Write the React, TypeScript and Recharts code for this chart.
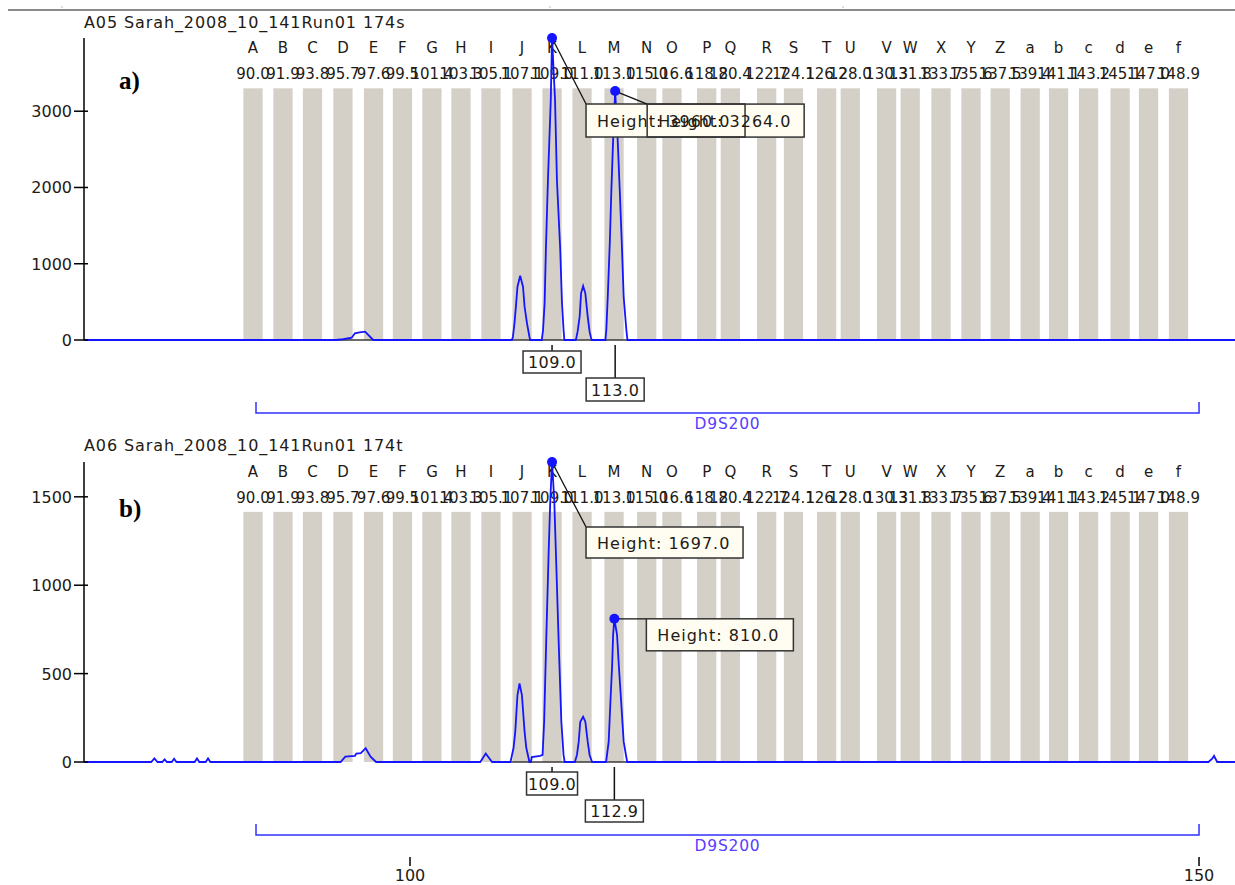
import React from 'react';
import { ComposedChart, Line, XAxis, YAxis, ReferenceArea, ReferenceDot, ReferenceLine } from 'recharts';

// ---------------- data ----------------
const xDomain: [number, number] = [79.34, 152.28];
const xTicks = [100, 150];
const yTicksA = [0, 1000, 2000, 3000];
const yTicksB = [0, 500, 1000, 1500];
const yMaxA = 3960;
const yMaxB = 1697;

const binLetters = ['A', 'B', 'C', 'D', 'E', 'F', 'G', 'H', 'I', 'J', 'K', 'L', 'M', 'N', 'O', 'P', 'Q', 'R', 'S', 'T', 'U', 'V', 'W', 'X', 'Y', 'Z', 'a', 'b', 'c', 'd', 'e', 'f'];
const binCenters = [90.05, 91.95, 93.82, 95.75, 97.69, 99.52, 101.39, 103.23, 105.13, 107.1, 109.0, 110.9, 112.93, 115.0, 116.6, 118.8, 120.3, 122.6, 124.3, 126.4, 127.9, 130.2, 131.7, 133.65, 135.55, 137.4, 139.3, 141.1, 143.0, 145.0, 146.8, 148.7];
const binLabels = ['90.0', '91.9', '93.8', '95.7', '97.6', '99.5', '101.4', '103.3', '105.1', '107.1', '109.0', '111.0', '113.0', '115.0', '116.6', '118.8', '120.4', '122.7', '124.1', '126.2', '128.0', '130.3', '131.8', '133.7', '135.6', '137.5', '139.4', '141.1', '143.2', '145.1', '147.0', '148.9'];
const binTopA = 3300;
const binTopB = 1415;

const locusName = 'D9S200';
const locusRange = [90.24, 150.0];

const titleA = 'A05 Sarah_2008_10_141Run01 174s';
const titleB = 'A06 Sarah_2008_10_141Run01 174t';

// panel a trace pieces [size, height]
const traceA_E = [[95.3, 0], [95.77, 10], [96.3, 30], [96.51, 88], [96.8, 100], [97.15, 109], [97.67, 0]];
const traceA_J = [[106.45, 0], [106.52, 40], [106.62, 222], [106.71, 437], [106.81, 699], [106.98, 843], [107.16, 699], [107.26, 437], [107.41, 222], [107.57, 40], [107.62, 0]];
const traceA_K = [[108.35, 0], [108.43, 131], [108.53, 485], [108.61, 1180], [108.74, 2097], [108.92, 3145], [109.0, 3960], [109.19, 3145], [109.31, 2097], [109.52, 1180], [109.63, 485], [109.73, 131], [109.78, 0]];
const traceA_L = [[110.5, 0], [110.54, 30], [110.62, 109], [110.75, 306], [110.84, 612], [110.97, 708], [111.11, 612], [111.26, 306], [111.38, 109], [111.47, 30], [111.52, 0]];
const traceA_M = [[112.38, 0], [112.44, 131], [112.53, 564], [112.66, 1271], [112.76, 1966], [112.87, 2621], [113.0, 3264], [113.16, 2621], [113.29, 1966], [113.42, 1271], [113.54, 564], [113.71, 131], [113.78, 0]];

// panel b trace pieces
const traceB_noise = [[83.6, 0], [83.8, 20], [84.0, 0], [84.3, 0], [84.45, 15], [84.6, 0], [84.9, 0], [85.05, 18], [85.2, 0], [86.35, 0], [86.5, 20], [86.65, 0], [87.05, 0], [87.2, 20], [87.35, 0]];
const traceB_E = [[95.6, 0], [95.9, 30], [96.51, 35], [96.6, 48], [96.88, 50], [97.19, 78], [97.5, 30], [97.85, 0]];
const traceB_I = [[104.45, 0], [104.8, 48], [105.2, 0]];
const traceB_J = [[106.35, 0], [106.39, 10], [106.56, 79], [106.67, 172], [106.81, 379], [106.94, 445], [107.09, 379], [107.26, 172], [107.37, 79], [107.57, 0]];
const traceB_K = [[107.66, 0], [107.72, 28], [108.25, 35], [108.4, 40], [108.5, 228], [108.63, 681], [108.78, 1171], [108.89, 1483], [109.0, 1697], [109.14, 1483], [109.25, 1171], [109.42, 681], [109.59, 228], [109.73, 40], [109.8, 0]];
const traceB_L = [[110.45, 0], [110.48, 10], [110.58, 40], [110.69, 115], [110.79, 228], [110.97, 256], [111.11, 228], [111.26, 115], [111.38, 40], [111.54, 0]];
const traceB_M = [[112.4, 0], [112.44, 10], [112.59, 115], [112.7, 341], [112.81, 549], [112.87, 719], [112.95, 810], [113.12, 719], [113.23, 549], [113.38, 341], [113.54, 115], [113.76, 0]];
const traceB_end = [[150.6, 0], [150.85, 20], [150.95, 35], [151.15, 0]];

const callSizesA = [109.0, 113.0];
const callHeightsA = [3960, 3264];
const callLabelsA = ['109.0', '113.0'];
const callSizesB = [109.0, 112.95];
const callHeightsB = [1697, 810];
const callLabelsB = ['109.0', '112.9'];

// ---------------- styles / layout ----------------
const FONT = '"DejaVu Sans", Verdana, sans-serif';
const TRACE = '#1414ff';
const BIN_FILL = '#d4d0c8';
const TEXT = '#221a14';
const BIN_HALF = 0.61;
const heightLayoutA = [{ dx: 34, dy: 66, w: 159, h: 33 }, { dx: 32, dy: 13, w: 157, h: 33 }];
const heightLayoutB = [{ dx: 34, dy: 65, w: 157, h: 31 }, { dx: 32, dy: 0, w: 147, h: 32 }];
const sizeLayoutA = [{ dy: 11, w: 58, h: 22 }, { dy: 38, w: 58, h: 23 }];
const sizeLayoutB = [{ dy: 10, w: 51, h: 23 }, { dy: 38, w: 58, h: 22 }];

type Pt = number[];
const toPoints = (...parts: Pt[][]) => parts.flat().map(([x, y]) => ({ x, y }));
const dataA = toPoints([[xDomain[0], 0]], traceA_E, traceA_J, traceA_K, traceA_L, traceA_M, [[xDomain[1], 0]]);
const dataB = toPoints([[xDomain[0], 0]], traceB_noise, traceB_E, traceB_I, traceB_J, traceB_K, traceB_L, traceB_M, traceB_end, [[xDomain[1], 0]]);
const peaksA = [traceA_E, traceA_J, traceA_K, traceA_L, traceA_M];
const peaksB = [traceB_J, traceB_K, traceB_L, traceB_M];

const YTick = (props: any) => {
  const { x, y, payload } = props;
  return (
    <g>
      <line x1={x - 10} x2={x + 4} y1={y} y2={y} stroke="#000" strokeWidth={1.5} />
      <text x={x - 12} y={y + 6} textAnchor="end" fontSize={16} fill={TEXT} fontFamily={FONT}>{payload.value}</text>
    </g>
  );
};

const XTick = (props: any) => {
  const { x, y, payload } = props;
  return (
    <g>
      <line x1={x} x2={x} y1={y + 95} y2={y + 104} stroke="#000" strokeWidth={1.5} />
      <text x={x} y={y + 119} textAnchor="middle" fontSize={16} fill={TEXT} fontFamily={FONT}>{payload.value}</text>
    </g>
  );
};

const BinShape = (props: any) => {
  const { x, y, width, height, letter, label } = props;
  const cx = x + width / 2;
  return (
    <g>
      <rect x={x} y={y} width={width} height={height} fill={BIN_FILL} />
      <text x={cx} y={y - 35} textAnchor="middle" fontSize={15} fill={TEXT} fontFamily={FONT}>{letter}</text>
      <text x={cx} y={y - 9} textAnchor="middle" fontSize={15} fill={TEXT} fontFamily={FONT}>{label}</text>
    </g>
  );
};

const HeightBoxFill = (props: any) => {
  const { cx, cy, lay } = props;
  return <rect x={cx + lay.dx} y={cy + lay.dy} width={lay.w} height={lay.h} fill="#fffdf2" />;
};

const HeightBoxFront = (props: any) => {
  const { cx, cy, lay, text } = props;
  const bx = cx + lay.dx;
  const by = cy + lay.dy;
  return (
    <g>
      <line x1={cx} y1={cy} x2={bx} y2={by} stroke="#111" strokeWidth={1.3} />
      <rect x={bx} y={by} width={lay.w} height={lay.h} fill="none" stroke="#333" strokeWidth={1.5} />
      <text x={bx + 11} y={by + lay.h / 2 + 6} fontSize={16} letterSpacing={1} fill={TEXT} fontFamily={FONT}>{text}</text>
      <circle cx={cx} cy={cy} r={5} fill={TRACE} />
    </g>
  );
};

const SizeBox = (props: any) => {
  const { cx, cy, lay, text } = props;
  const by = cy + lay.dy;
  return (
    <g>
      <line x1={cx} y1={cy + 5} x2={cx} y2={by} stroke="#111" strokeWidth={1.5} />
      <rect x={cx - lay.w / 2} y={by} width={lay.w} height={lay.h} fill="#fff" stroke="#333" strokeWidth={1.5} />
      <text x={cx} y={by + lay.h / 2 + 6} textAnchor="middle" fontSize={16} letterSpacing={0.5} fill={TEXT} fontFamily={FONT}>{text}</text>
    </g>
  );
};

const Bracket = (props: any) => {
  const { x1, y1, x2 } = props;
  return (
    <g>
      <path d={`M${x1},${y1 + 62} V${y1 + 73} H${x2} V${y1 + 62}`} fill="none" stroke="#3030ff" strokeWidth={1.5} />
      <text x={(x1 + x2) / 2} y={y1 + 89} textAnchor="middle" fontSize={15.5} letterSpacing={0.8} fill="#5a3cff" fontFamily={FONT}>{locusName}</text>
    </g>
  );
};

interface PanelProps {
  data: { x: number; y: number }[];
  yMax: number;
  yTicks: number[];
  binTop: number;
  peaks: Pt[][];
  callSizes: number[];
  callHeights: number[];
  callLabels: string[];
  heightLayout: any[];
  sizeLayout: any[];
  height: number;
  margin: any;
  showX: boolean;
}

function Panel(p: PanelProps) {
  return (
    <ComposedChart width={1235} height={p.height} data={p.data} margin={p.margin}>
      <XAxis
        dataKey="x"
        type="number"
        domain={xDomain}
        ticks={xTicks}
        interval={0}
        hide={!p.showX}
        height={40}
        axisLine={false}
        tickLine={false}
        tickSize={0}
        tickMargin={0}
        tick={(t: any) => <XTick {...t} />}
      />
      <YAxis
        type="number"
        domain={[0, p.yMax]}
        ticks={p.yTicks}
        interval={0}
        width={60}
        tickLine={false}
        tickSize={0}
        tickMargin={0}
        axisLine={{ stroke: '#000', strokeWidth: 1.5 }}
        tick={(t: any) => <YTick {...t} />}
      />
      {binCenters.map((c, i) => (
        <ReferenceArea
          key={'bin' + i}
          x1={c - BIN_HALF}
          x2={c + BIN_HALF}
          y1={0}
          y2={p.binTop}
          ifOverflow="visible"
          shape={(s: any) => <BinShape {...s} letter={binLetters[i]} label={binLabels[i]} />}
        />
      ))}
      {p.peaks.map((pk, i) => (
        <ReferenceLine
          key={'base' + i}
          segment={[{ x: pk[0][0], y: 0 }, { x: pk[pk.length - 1][0], y: 0 }]}
          stroke="#3a3a3a"
          strokeWidth={1.5}
          ifOverflow="visible"
        />
      ))}
      <Line dataKey="y" type="linear" stroke={TRACE} strokeWidth={1.8} dot={false} activeDot={false} isAnimationActive={false} />
      <ReferenceLine
        segment={[{ x: locusRange[0], y: 0 }, { x: locusRange[1], y: 0 }]}
        ifOverflow="visible"
        shape={(s: any) => <Bracket {...s} />}
      />
      {p.callSizes.map((sz, i) => (
        <ReferenceDot key={'sb' + i} x={sz} y={0} r={1} ifOverflow="visible"
          shape={(s: any) => <SizeBox {...s} lay={p.sizeLayout[i]} text={p.callLabels[i]} />} />
      ))}
      {p.callSizes.map((sz, i) => (
        <ReferenceDot key={'hf' + i} x={sz} y={p.callHeights[i]} r={1} ifOverflow="visible"
          shape={(s: any) => <HeightBoxFill {...s} lay={p.heightLayout[i]} />} />
      ))}
      {p.callSizes.map((sz, i) => (
        <ReferenceDot key={'hb' + i} x={sz} y={p.callHeights[i]} r={5} ifOverflow="visible"
          shape={(s: any) => <HeightBoxFront {...s} lay={p.heightLayout[i]} text={`Height: ${p.callHeights[i].toFixed(1)}`} />} />
      ))}
    </ComposedChart>
  );
}

export default function App() {
  return (
    <div style={{ position: 'absolute', left: 0, top: 0, width: 1235, height: 885, background: '#fff', fontFamily: FONT, overflow: 'hidden' }}>
      <svg width={1235} height={885} style={{ position: 'absolute', left: 0, top: 0 }}>
        <line x1={8} x2={1235} y1={10} y2={10} stroke="#8a8a8a" strokeWidth={2} />
        <line x1={62} x2={62} y1={6} y2={8} stroke="#bbb" strokeWidth={1} />
        <line x1={550} x2={550} y1={6} y2={8} stroke="#bbb" strokeWidth={1} />
        <line x1={843} x2={843} y1={6} y2={8} stroke="#bbb" strokeWidth={1} />
        <text x={84} y={28} fontSize={16} letterSpacing={0.9} fill={TEXT} fontFamily={FONT}>{titleA}</text>
        <text x={84} y={451} fontSize={16} letterSpacing={0.9} fill={TEXT} fontFamily={FONT}>{titleB}</text>
        <text x={119} y={89} fontSize={25} fontWeight="bold" fill="#000" fontFamily='"Liberation Serif", "Times New Roman", serif'>a)</text>
        <text x={119} y={517} fontSize={25} fontWeight="bold" fill="#000" fontFamily='"Liberation Serif", "Times New Roman", serif'>b)</text>
      </svg>
      <div style={{ position: 'absolute', left: 0, top: 0 }}>
        <Panel
          data={dataA} yMax={yMaxA} yTicks={yTicksA} binTop={binTopA} peaks={peaksA}
          callSizes={callSizesA} callHeights={callHeightsA} callLabels={callLabelsA}
          heightLayout={heightLayoutA} sizeLayout={sizeLayoutA}
          height={440} margin={{ top: 38, right: 0, bottom: 100, left: 24 }} showX={false}
        />
      </div>
      <div style={{ position: 'absolute', left: 0, top: 420 }}>
        <Panel
          data={dataB} yMax={yMaxB} yTicks={yTicksB} binTop={binTopB} peaks={peaksB}
          callSizes={callSizesB} callHeights={callHeightsB} callLabels={callLabelsB}
          heightLayout={heightLayoutB} sizeLayout={sizeLayoutB}
          height={465} margin={{ top: 42, right: 0, bottom: 83, left: 24 }} showX={true}
        />
      </div>
    </div>
  );
}
